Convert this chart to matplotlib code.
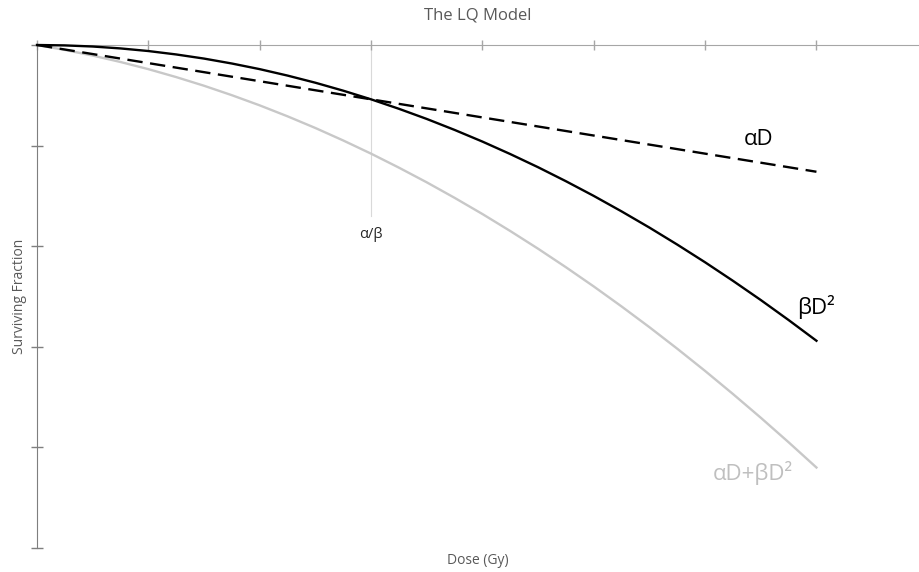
import numpy as np
import matplotlib.pyplot as plt

plt.rcParams['font.family'] = ['Open Sans', 'DejaVu Sans']

# dose (Gy) and log cell kill
dose = [0, 0.25, 0.5, 0.75, 1, 1.25, 1.5, 1.75, 2, 2.25, 2.5, 2.75, 3, 3.25, 3.5,
        3.75, 4, 4.25, 4.5, 4.75, 5, 5.25, 5.5, 5.75, 6, 6.25, 6.5, 6.75, 7]
alpha_d = [0, 0.045, 0.09, 0.135, 0.18, 0.225, 0.27, 0.315, 0.36, 0.405, 0.45, 0.495, 0.54, 0.585, 0.63,
           0.675, 0.72, 0.765, 0.81, 0.855, 0.90, 0.945, 0.99, 1.035, 1.08, 1.125, 1.17, 1.215, 1.26]
beta_d2 = [0, 0.004, 0.015, 0.034, 0.06, 0.094, 0.135, 0.184, 0.24, 0.304, 0.375, 0.454, 0.54, 0.634, 0.735,
           0.844, 0.96, 1.084, 1.215, 1.354, 1.5, 1.654, 1.815, 1.984, 2.16, 2.344, 2.535, 2.734, 2.94]
lq = [0, 0.049, 0.105, 0.169, 0.24, 0.319, 0.405, 0.499, 0.6, 0.709, 0.825, 0.949, 1.08, 1.219, 1.365,
      1.519, 1.68, 1.849, 2.025, 2.209, 2.4, 2.599, 2.805, 3.019, 3.24, 3.469, 3.705, 3.949, 4.2]
ab_ratio = 3

fig = plt.figure(figsize=(9.2, 5.72), dpi=100)
ax = fig.add_axes([37/920, 24/572, 883/920, 503/572])

ax.plot([ab_ratio, ab_ratio], [0, 1.7], color="#d9d9d9", lw=0.8, zorder=1)
ax.plot(dose, lq, color="#c8c8c8", lw=1.7, clip_on=False, zorder=2)
ax.plot(dose, beta_d2, color="black", lw=1.7, clip_on=False, zorder=3)
ax.plot(dose, alpha_d, color="black", lw=1.7, dashes=(6.5, 3.2), clip_on=False, zorder=3)

ax.set_xlim(0, 7.93)
ax.set_ylim(5, 0)
ax.set_xticks(range(0, 8))
ax.set_yticks(range(0, 6))
ax.xaxis.tick_top()
ax.tick_params(axis='x', direction='inout', length=7, width=1, colors="#a6a6a6", labeltop=False)
ax.tick_params(axis='y', direction='inout', length=8, width=1, colors="#7f7f7f", labelleft=False)
for s in ['right', 'bottom']:
    ax.spines[s].set_visible(False)
ax.spines['top'].set_color("#a6a6a6")
ax.spines['left'].set_color("#7f7f7f")

ax.text(ab_ratio, 1.88, "α/β", ha='center', va='center', fontsize=10.5, color="#262626")
ax.text(6.48, 0.94, "αD", ha='center', va='center', fontsize=16, color="black")
ax.text(7.0, 2.6, "βD²", ha='center', va='center', fontsize=16, color="black")
ax.text(6.43, 4.25, "αD+βD²", ha='center', va='center', fontsize=16, color="#bfbfbf")

fig.text(478/920, 1 - 15/572, "The LQ Model", ha='center', va='center', fontsize=12, color="#595959")
fig.text(478/920, 1 - 561/572, "Dose (Gy)", ha='center', va='center', fontsize=10, color="#595959")
fig.text(20/920, 1 - 296/572, "Surviving Fraction", ha='center', va='center', rotation=90, fontsize=10, color="#595959")

fig.savefig("out.png", dpi=100)
